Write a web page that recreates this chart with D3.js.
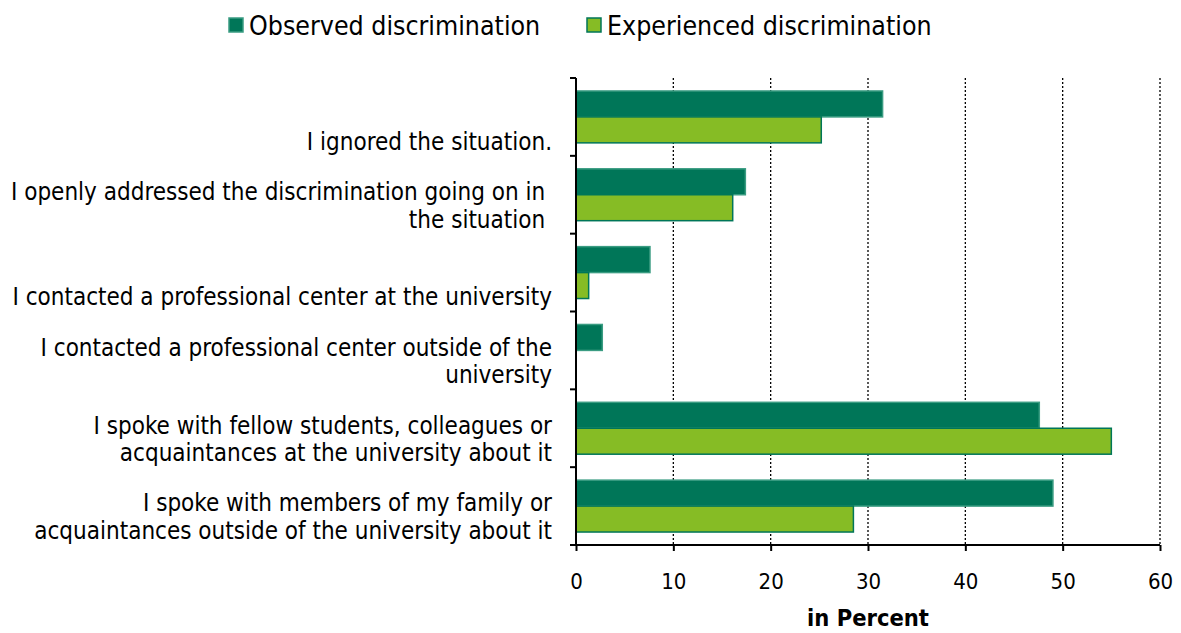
<!DOCTYPE html>
<html><head><meta charset="utf-8">
<script src="https://cdn.jsdelivr.net/npm/d3@7"></script>
<style>
body{margin:0;background:#fff;}
text{font-family:"DejaVu Sans Condensed","DejaVu Sans",sans-serif;font-stretch:condensed;}
</style></head><body>
<svg id="chart" width="1181" height="633"></svg>
<script>
const categories = [
  ["I ignored the situation."],
  ["I openly addressed the discrimination going on in ", "the situation "],
  ["I contacted a professional center at the university"],
  ["I contacted a professional center outside of the", "university"],
  ["I spoke with fellow students, colleagues or", "acquaintances at the university about it"],
  ["I spoke with members of my family or", "acquaintances outside of the university about it"]
];
const seriesNames = ["Observed discrimination", "Experienced discrimination"];
const observed = [31.5, 17.4, 7.6, 2.7, 47.6, 49.0];
const experienced = [25.2, 16.1, 1.3, 0, 55.0, 28.5];
const xTicks = [0, 10, 20, 30, 40, 50, 60];
const colors = ["#007658", "#86BC25"];
const strokes = ["#3a9c82", "#007658"];

const svg = d3.select("#chart");
const mL = 576, mR = 1160, mT = 78, mB = 545;
const x = d3.scaleLinear().domain([0, 60]).range([mL, mR]);
const y = d3.scaleBand().domain(d3.range(categories.length)).range([mT, mB]).paddingInner(0).paddingOuter(0);
const inner = d3.scaleBand().domain([0, 1]).range([0, y.bandwidth()]).paddingOuter(0.5).paddingInner(0);

// grid
svg.append("g").selectAll("line").data(xTicks.slice(1)).join("line")
  .attr("x1", d => x(d)).attr("x2", d => x(d)).attr("y1", mT).attr("y2", mB)
  .attr("stroke", "#000").attr("stroke-width", 1.3).attr("stroke-dasharray", "2,2");

const series = [observed, experienced];
series.forEach((vals, s) => {
  const data = vals.map((v, i) => ({v, i})).filter(d => d.v > 0);
  svg.append("g").selectAll("rect").data(data).join("rect")
    .attr("x", x(0)).attr("y", d => y(d.i) + inner(s))
    .attr("width", d => x(d.v) - x(0)).attr("height", inner.bandwidth())
    .attr("fill", colors[s]).attr("stroke", strokes[s]).attr("stroke-width", 1.5);
});

// x axis
const xAxis = svg.append("g").attr("transform", `translate(0,${mB})`)
  .call(d3.axisBottom(x).tickValues(xTicks).tickSize(6).tickPadding(22));
xAxis.select(".domain").attr("stroke", "#000").attr("stroke-width", 2).attr("d", `M${mL},0H${mR}`);
xAxis.selectAll(".tick line").attr("stroke", "#000").attr("stroke-width", 2);
xAxis.selectAll(".tick text").attr("font-size", 22).attr("fill", "#000")
  .attr("font-family", '"DejaVu Sans Condensed","DejaVu Sans",sans-serif');

// y axis
const yAxis = svg.append("g").attr("transform", `translate(${mL},0)`);
yAxis.append("line").attr("x1", 0).attr("x2", 0).attr("y1", mT).attr("y2", mB).attr("stroke", "#000").attr("stroke-width", 2);
yAxis.selectAll(".yt").data(d3.range(categories.length + 1)).join("line")
  .attr("x1", -6).attr("x2", 0)
  .attr("y1", d => mT + d * y.step()).attr("y2", d => mT + d * y.step())
  .attr("stroke", "#000").attr("stroke-width", 2);

// category labels (last line anchored slightly below band center)
categories.forEach((lines, i) => {
  const cy = y(i) + y.bandwidth() / 2 + 24.5;
  const t = svg.append("text").attr("text-anchor", "end").attr("font-size", 24).attr("fill", "#000")
    .attr("xml:space", "preserve");
  lines.forEach((ln, j) => {
    t.append("tspan").attr("x", 552).attr("y", cy - (lines.length - 1 - j) * 27.5).attr("dy", "0.35em").text(ln);
  });
});

// axis title
svg.append("text").attr("x", (mL + mR) / 2).attr("y", 618).attr("dy", "0.35em")
  .attr("text-anchor", "middle").attr("font-size", 23.5).attr("font-weight", "bold").text("in Percent");

// legend
const legX = [229, 587];
seriesNames.forEach((n, s) => {
  const g = svg.append("g").attr("transform", `translate(${legX[s]},18)`);
  g.append("rect").attr("width", 14).attr("height", 14).attr("fill", colors[s]).attr("stroke", strokes[s]).attr("stroke-width", 1.5);
  g.append("text").attr("x", 20).attr("y", 8).attr("dy", "0.35em").attr("font-size", 26.5).text(n);
});
</script>
</body></html>
